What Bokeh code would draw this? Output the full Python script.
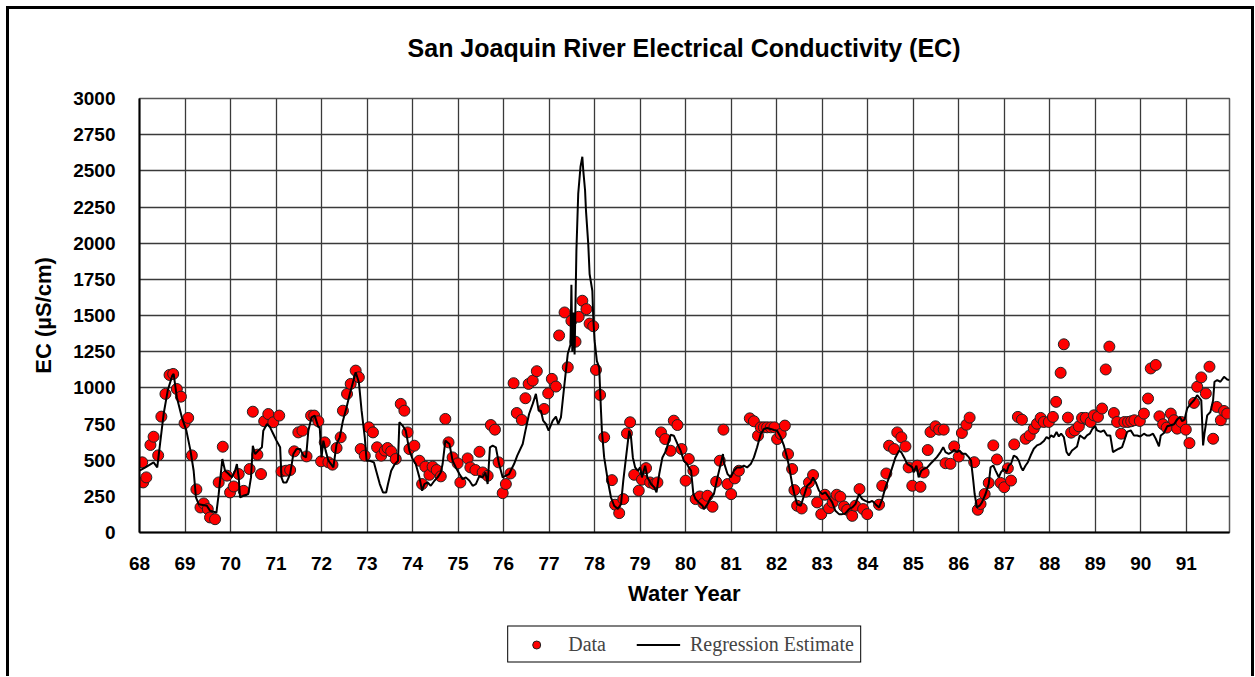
from bokeh.plotting import figure
from bokeh.models import FixedTicker, Legend, LegendItem, Div
from bokeh.layouts import column
from bokeh.embed import file_html
from bokeh.resources import INLINE

# ---- data ----
data_year = [68.06, 68.08, 68.15, 68.24, 68.31, 68.41, 68.48, 68.57, 68.66, 68.74, 68.82, 68.91, 68.99, 69.07,
             69.15, 69.25, 69.34, 69.41, 69.50, 69.55, 69.66, 69.74, 69.83, 69.92, 69.99, 70.07, 70.18, 70.29,
             70.42, 70.49, 70.59, 70.67, 70.74, 70.83, 70.94, 71.07, 71.12, 71.22, 71.31, 71.40, 71.49, 71.58,
             71.67, 71.77, 71.84, 71.93, 71.99, 72.07, 72.15, 72.24, 72.33, 72.42, 72.47, 72.56, 72.64, 72.75,
             72.82, 72.86, 72.95, 73.04, 73.13, 73.22, 73.31, 73.39, 73.45, 73.53, 73.63,
             73.74, 73.82, 73.89, 73.93, 74.04, 74.15, 74.21, 74.28, 74.37, 74.44, 74.53, 74.62, 74.72, 74.79,
             74.88, 74.99, 75.05, 75.21, 75.27, 75.38, 75.47, 75.54, 75.65, 75.72, 75.81, 75.89, 75.98, 76.05,
             76.15, 76.22, 76.29, 76.40, 76.48, 76.55, 76.64, 76.73, 76.89, 76.98, 77.06, 77.15, 77.22, 77.34,
             77.41, 77.49, 77.58, 77.65, 77.73, 77.82, 77.89, 77.97, 78.03, 78.12, 78.21, 78.38, 78.45, 78.54,
             78.63, 78.71, 78.78, 78.87, 78.97, 79.04, 79.13, 79.22, 79.31, 79.38, 79.46, 79.55,
             79.67, 79.74, 79.82, 79.91, 80.00, 80.07, 80.17, 80.22, 80.31, 80.39, 80.48, 80.59, 80.67, 80.75,
             80.83, 80.92, 81.00, 81.08, 81.17, 81.41, 81.50, 81.59, 81.65, 81.72, 81.79, 81.87, 81.95, 82.01,
             82.09, 82.18, 82.25, 82.34, 82.39, 82.45, 82.55, 82.64, 82.71, 82.80, 82.89, 82.98, 83.06, 83.15,
             83.23, 83.32, 83.40, 83.48, 83.55, 83.66, 83.73, 83.82, 83.90, 83.99, 84.25, 84.32, 84.41, 84.47,
             84.58, 84.65, 84.74, 84.83, 84.90, 84.98, 85.09, 85.16, 85.23, 85.32,
             85.38, 85.49, 85.57, 85.67, 85.71, 85.82, 85.90, 86.00, 86.07, 86.17, 86.24, 86.34, 86.42, 86.48,
             86.57, 86.66, 86.76, 86.84, 86.92, 87.00, 87.08, 87.15, 87.22, 87.30, 87.39, 87.47, 87.56, 87.65,
             87.72, 87.80, 87.87, 87.98, 88.07, 88.14, 88.24, 88.31, 88.40, 88.47, 88.55, 88.64, 88.71, 88.79,
             88.90, 88.97, 89.06, 89.15, 89.23, 89.31, 89.41, 89.48, 89.57, 89.64, 89.72, 89.79, 89.86, 89.98,
             90.07, 90.16, 90.22, 90.33, 90.41, 90.49, 90.57, 90.66, 90.73, 90.80, 90.89, 90.99, 91.07, 91.17,
             91.24, 91.33, 91.43, 91.51, 91.59, 91.67, 91.76, 91.83, 91.90]
data_ec = [485, 346, 381, 605, 662, 533, 801, 958, 1089, 1096, 992, 939, 755, 792,
           533, 298, 173, 201, 162, 104, 92, 346, 593, 393, 277, 318, 404, 288,
           439, 835, 538, 404, 769, 819, 762, 808, 422, 427, 432, 561, 692, 704,
           526, 808, 808, 769, 492, 623, 485, 469, 584, 658, 842, 958, 1027, 1119,
           1073, 577, 531, 727, 692, 589, 531, 566, 584, 561, 508,
           889, 842, 692, 577, 600, 496, 335, 455, 399, 455, 432, 388, 785, 623,
           519, 478, 346, 512, 450, 432, 558, 415, 392, 743, 711, 485, 272, 335,
           408, 1032, 826, 778, 928, 1027, 1050, 1115, 854, 962, 1062, 1009, 1362, 1521,
           1142, 1463, 1319, 1491, 1602, 1544, 1444, 1426, 1124, 951, 658, 362, 192, 134,
           231, 685, 762, 399, 289, 365, 445, 346, 335, 346, 692, 646,
           565, 773, 743, 577, 358, 508, 427, 231, 249, 201, 254, 178, 351, 496,
           711, 335, 265, 374, 427, 789, 769, 669, 727, 727, 727, 727, 727, 646,
           681, 739, 542, 439, 293, 185, 166, 282, 346, 397, 208, 127, 261, 168,
           208, 261, 247, 180, 157, 115, 185, 300, 162, 127, 192, 323, 408, 600,
           577, 692, 658, 595, 450, 323, 462, 316, 415, 570,
           695, 734, 711, 711, 479, 475, 595, 525, 688, 745, 794, 486, 157, 197,
           266, 343, 602, 505, 343, 313, 444, 359, 609, 799, 780, 648, 671, 718,
           752, 792, 764, 764, 799, 903, 1104, 1301, 794, 690, 706, 734, 792, 792,
           764, 810, 799, 857, 1127, 1285, 826, 764, 683, 764, 764, 769, 776, 771,
           822, 926, 1134, 1158, 803, 748, 725, 822, 776, 718, 764, 711, 618, 896,
           1007, 1072, 961, 1146, 648, 868, 776, 840, 822]

est_year = [68.00, 68.13, 68.31, 68.39, 68.46, 68.53, 68.62, 68.72, 68.75, 68.82, 68.93, 69.03, 69.12, 69.19,
            69.24, 69.30, 69.48, 69.55, 69.69, 69.74, 69.77, 69.82, 69.88, 69.96, 70.03, 70.10, 70.14, 70.18,
            70.21, 70.28, 70.39, 70.45, 70.49, 70.54, 70.61, 70.69, 70.72, 70.80, 70.87, 70.94, 71.01, 71.09,
            71.12, 71.16, 71.23, 71.31, 71.38, 71.45, 71.53, 71.60, 71.66, 71.71, 71.78, 71.85, 71.93, 71.96,
            72.00, 72.04, 72.09, 72.15, 72.18, 72.26, 72.29, 72.33, 72.40, 72.47, 72.55, 72.62, 72.68, 72.75,
            72.82, 72.88, 72.95, 72.99, 73.06, 73.15, 73.20, 73.28, 73.35, 73.42, 73.46, 73.53, 73.61, 73.68,
            73.71, 73.78, 73.85, 73.93, 74.00, 74.07, 74.15, 74.21, 74.26, 74.33, 74.40, 74.48, 74.55, 74.62,
            74.66, 74.72, 74.81, 74.88, 74.95, 75.03, 75.10, 75.17, 75.25, 75.32, 75.39, 75.47, 75.54, 75.60,
            75.65, 75.70, 75.76, 75.83, 75.90, 75.98, 76.04, 76.12, 76.23, 76.30, 76.42, 76.48, 76.56, 76.64,
            76.71, 76.77, 76.82, 76.87, 76.93, 76.99, 77.08, 77.15, 77.20, 77.26, 77.33, 77.41,
            77.47, 77.49, 77.51, 77.54, 77.56, 77.60, 77.64, 77.69, 77.73, 77.75, 77.79, 77.81, 77.86, 77.89,
            77.95, 77.97, 78.00, 78.05,
            78.10, 78.14, 78.16, 78.21, 78.29, 78.36, 78.43, 78.51, 78.58, 78.63, 78.69, 78.76, 78.80, 78.84,
            78.89, 78.95, 79.00, 79.04, 79.11, 79.16, 79.24, 79.31, 79.36, 79.42, 79.49, 79.57,
            79.67, 79.74, 79.82, 79.89, 79.96, 80.02, 80.07, 80.12, 80.17, 80.22, 80.29, 80.37, 80.40, 80.48,
            80.55, 80.62, 80.70, 80.77, 80.82, 80.84, 80.92, 80.99, 81.06, 81.13, 81.21, 81.28, 81.35, 81.43,
            81.50, 81.57, 81.65, 81.72, 81.79, 81.87, 81.94, 82.01, 82.09, 82.16, 82.23, 82.29, 82.34, 82.39,
            82.45, 82.53, 82.60, 82.67, 82.75, 82.80, 82.86, 82.93, 83.00, 83.07, 83.15, 83.22, 83.29, 83.37,
            83.44, 83.51, 83.59, 83.66, 83.73, 83.81, 83.88, 83.95, 84.03, 84.10, 84.17, 84.25, 84.32, 84.39,
            84.47, 84.54, 84.61, 84.69, 84.74, 84.80, 84.87, 84.93, 84.98, 85.01, 85.07, 85.12, 85.18, 85.23,
            85.31,
            85.38, 85.45, 85.52, 85.60, 85.66, 85.71, 85.78, 85.85, 85.90, 85.96, 86.02, 86.07, 86.15, 86.22,
            86.27, 86.32, 86.35, 86.40, 86.46, 86.51, 86.59, 86.66, 86.70, 86.76, 86.81, 86.88, 86.93, 86.99,
            87.05, 87.10, 87.15, 87.21, 87.27, 87.32, 87.37, 87.41, 87.47, 87.52, 87.58, 87.65, 87.72, 87.80,
            87.87, 87.93, 87.98, 88.03, 88.09, 88.15, 88.20, 88.25, 88.31, 88.37, 88.42, 88.49, 88.54, 88.60,
            88.66, 88.71, 88.76, 88.82, 88.88, 88.94, 89.00, 89.04, 89.12, 89.19, 89.26, 89.33, 89.39, 89.45,
            89.52, 89.59, 89.64, 89.70, 89.78, 89.85, 89.92, 89.99, 90.07, 90.13, 90.20, 90.27, 90.33, 90.40,
            90.44, 90.51, 90.58, 90.66, 90.73, 90.80, 90.86, 90.91, 90.96, 91.02, 91.10, 91.17, 91.24, 91.33,
            91.37, 91.40, 91.46, 91.53, 91.59, 91.62, 91.68, 91.75, 91.83, 91.90, 91.95]
est_ec = [427, 450, 485, 450, 635, 819, 981, 1085, 1096, 935, 796, 704, 566, 427,
          242, 196, 185, 150, 138, 265, 358, 508, 427, 404, 381, 427, 473, 381,
          242, 254, 265, 381, 600, 542, 566, 589, 704, 750, 727, 681, 635, 589,
          381, 346, 346, 404, 542, 577, 577, 531, 519, 704, 796, 808, 727, 727,
          519, 635, 566, 496, 485, 450, 519, 612, 658, 773, 866, 958, 1027, 1108,
          1039, 842, 658, 496, 496, 485, 427, 335, 277, 277, 335, 427, 473, 496,
          762, 739, 704, 566, 508, 473, 381, 289, 335, 346, 323, 358, 381, 415,
          473, 635, 612, 496, 450, 404, 369, 381, 358, 323, 335, 392, 381, 415,
          335, 589, 600, 589, 473, 381, 392, 404, 473, 531, 612, 704, 819, 889,
          958, 842, 842, 773, 750, 704, 773, 801, 750, 796, 1004, 1235,
          1300, 1713, 1250, 1520, 1231, 1949, 2343, 2528, 2597, 2505, 2366, 2227, 1995, 1787,
          1671, 1486, 1324, 1185,
          1142, 842, 704, 519, 358, 242, 185, 162, 196, 358, 519, 704, 658, 519,
          450, 427, 450, 381, 462, 381, 335, 312, 277, 404, 519, 566,
          676, 669, 612, 566, 496, 478, 450, 427, 265, 231, 208, 185, 162, 196,
          242, 265, 381, 473, 542, 485, 404, 381, 427, 450, 450, 462, 450, 473,
          519, 589, 681, 716, 722, 716, 709, 704, 658, 600, 519, 427, 335, 265,
          196, 185, 254, 323, 346, 381, 346, 289, 265, 277, 242, 208, 150, 127,
          127, 132, 162, 173, 196, 265, 231, 219, 208, 219, 196, 173, 231, 312,
          381, 450, 519, 566, 554, 519, 473, 462, 450, 415, 462, 381, 427, 439,
          450,
          475, 498, 521, 556, 590, 556, 544, 556, 572, 556, 567, 544, 544, 521,
          498, 359, 266, 174, 185, 208, 266, 336, 451, 463, 428, 382, 417, 440,
          417, 463, 475, 532, 521, 498, 451, 428, 463, 486, 532, 579, 602, 613,
          632, 660, 648, 671, 660, 695, 664, 683, 660, 556, 532, 567, 579, 595,
          671, 660, 648, 671, 683, 718, 734, 706, 695, 706, 671, 671, 556, 567,
          579, 590, 637, 695, 706, 671, 671, 664, 683, 671, 671, 683, 648, 595,
          671, 688, 734, 741, 748, 780, 799, 769, 780, 857, 891, 914, 949, 914,
          602, 683, 810, 833, 914, 1042, 1053, 1042, 1076, 1058, 1053]

x_ticks = list(range(68, 92))
y_ticks = list(range(0, 3001, 250))
title_text = "San Joaquin River Electrical Conductivity (EC)"

FONT = "Liberation Sans"
DOT = dict(size=11, fill_color="#ff0000", line_color="#222222", line_width=1)
LINE = dict(line_color="black", line_width=2)

# title strip
title_div = Div(text=title_text, width=1242, height=60, margin=0,
                styles={"box-sizing": "border-box", "padding-left": "108px", "padding-top": "18px",
                        "text-align": "center",
                        "font-family": "'Liberation Sans', Arial, sans-serif", "font-weight": "bold",
                        "font-size": "25px", "line-height": "42px", "color": "black"})

p = figure(frame_width=1090, frame_height=434,
           min_border_left=130, min_border_right=22, min_border_top=29, min_border_bottom=80,
           x_range=(68, 91.95), y_range=(0, 3000),
           output_backend="svg", toolbar_location=None)

p.scatter(data_year, data_ec, **DOT)
p.line(est_year, est_ec, **LINE)

for ax in (p.xaxis[0], p.yaxis[0]):
    ax.axis_line_color = "black"
    ax.axis_line_width = 2
    ax.major_tick_line_color = None
    ax.minor_tick_line_color = None
    ax.major_tick_out = 0
    ax.major_tick_in = 0
    ax.major_label_text_font = FONT
    ax.major_label_text_font_style = "bold"
    ax.major_label_text_font_size = "19px"
    ax.major_label_text_color = "black"
    ax.axis_label_text_font = FONT
    ax.axis_label_text_font_style = "bold"
    ax.axis_label_text_font_size = "22px"
    ax.axis_label_text_color = "black"

p.xaxis.ticker = FixedTicker(ticks=x_ticks)
p.yaxis.ticker = FixedTicker(ticks=y_ticks)
p.xaxis.axis_label = "Water Year"
p.yaxis.axis_label = "EC (µS/cm)"
p.xaxis.major_label_standoff = 24
p.yaxis.major_label_standoff = 24
p.xaxis.axis_label_standoff = 8
p.yaxis.axis_label_standoff = 14

p.xgrid.grid_line_color = "#3a3a3a"
p.ygrid.grid_line_color = "#3a3a3a"
p.xgrid.grid_line_width = 1.3
p.ygrid.grid_line_width = 1.3
p.outline_line_color = "#555555"
p.outline_line_width = 1.5

# legend strip below the chart (its renderers use the same data, kept out of view)
p2 = figure(width=1242, height=64, min_border_left=130, min_border_right=22,
            min_border_top=0, min_border_bottom=0,
            x_range=(0, 1), y_range=(0, 1), x_axis_location=None, y_axis_location=None,
            output_backend="svg", toolbar_location=None)
p2.outline_line_color = None
p2.grid.visible = False
d1 = p2.scatter(data_year, data_ec, **DOT)
d2 = p2.line(est_year, est_ec, **LINE)
legend = Legend(items=[LegendItem(label="Data", renderers=[d1]),
                       LegendItem(label="Regression Estimate", renderers=[d2])],
                orientation="horizontal", location="center")
legend.label_text_font = "Liberation Serif"
legend.label_text_font_size = "20px"
legend.border_line_color = "black"
legend.border_line_alpha = 1
legend.border_line_width = 1
legend.background_fill_alpha = 1
legend.glyph_width = 44
legend.spacing = 30
legend.padding = 6
legend.margin = 0
legend.label_standoff = 10
p2.add_layout(legend, "center")

lay = column(title_div, p, p2, spacing=0,
             styles={"border-left": "3px solid black", "border-top": "3px solid black",
                     "border-right": "3px solid black", "margin-left": "6px", "margin-top": "6px"})

open("out.html", "w").write(file_html(lay, INLINE))
